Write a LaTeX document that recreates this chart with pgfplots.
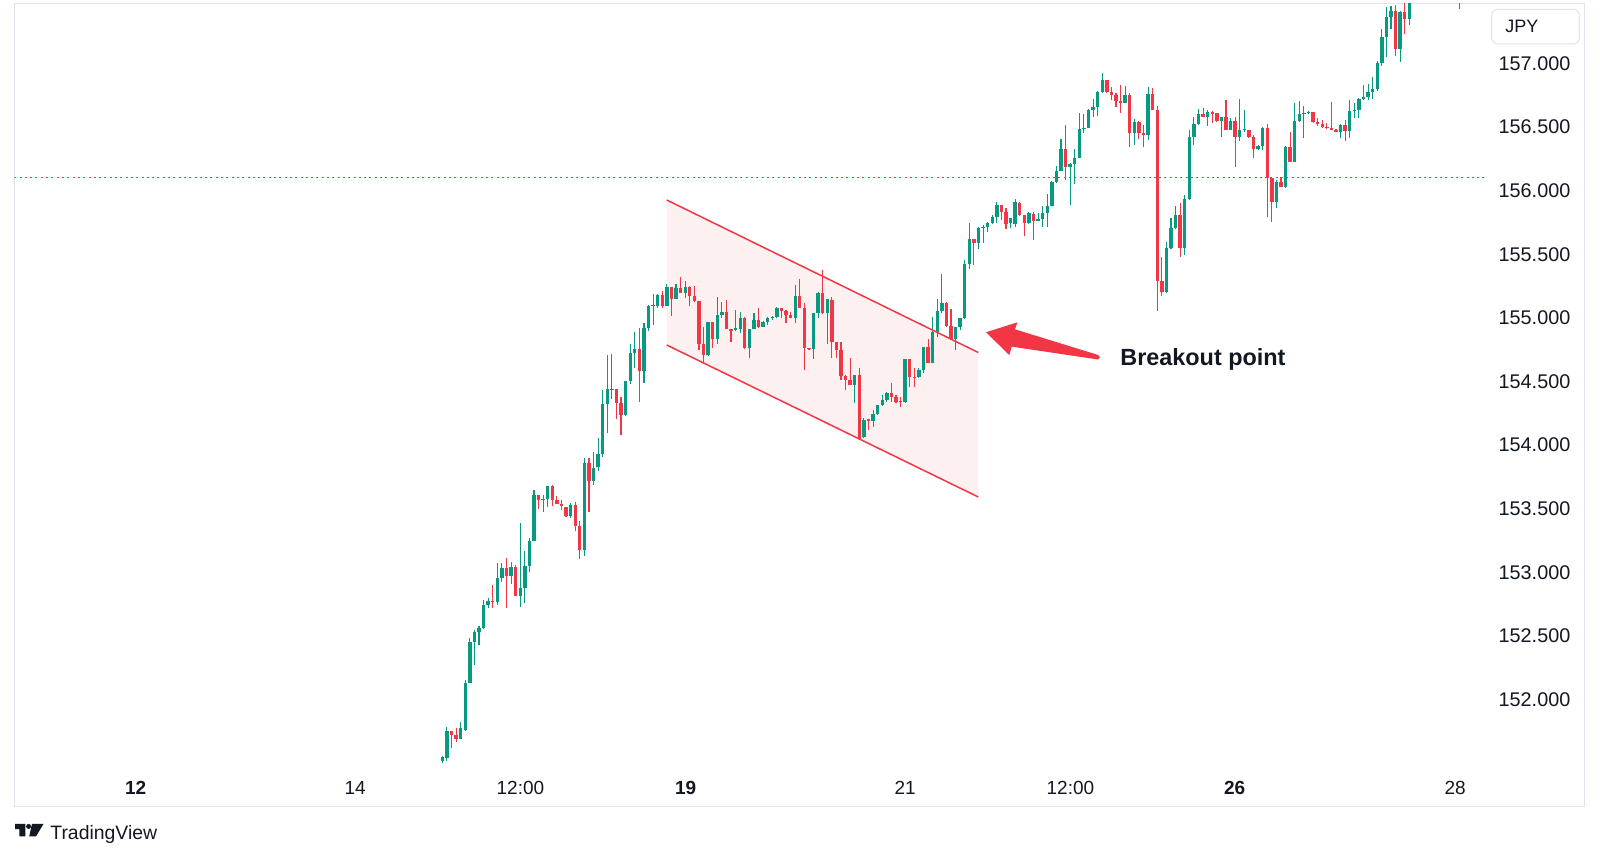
\documentclass[border=0pt]{standalone}
\usepackage{fontspec}
\setmainfont{Liberation Sans}
\usepackage{pgfplots}
\usepackage{pgfplotstable}
\pgfplotsset{compat=1.18}
\definecolor{tvgreen}{RGB}{8,153,129}
\definecolor{tvred}{RGB}{242,54,69}
\definecolor{tvtext}{RGB}{19,23,34}
\definecolor{tvborder}{RGB}{224,227,235}
\definecolor{chanbg}{RGB}{253,240,241}

\pgfplotstableread{
i o h l c
1 151.520 151.560 151.500 151.545
2 151.540 151.788 151.520 151.749
3 151.749 151.752 151.618 151.723
4 151.723 151.775 151.670 151.691
5 151.691 151.820 151.688 151.775
6 151.762 152.154 151.754 152.133
7 152.133 152.481 152.128 152.450
8 152.450 152.547 152.272 152.528
9 152.528 152.575 152.429 152.560
10 152.560 152.782 152.555 152.743
11 152.743 152.795 152.722 152.774
12 152.774 152.900 152.722 152.764
13 152.764 153.070 152.743 152.952
14 152.952 153.070 152.921 153.036
15 153.036 153.114 152.722 152.973
16 152.973 153.083 152.905 153.044
17 153.044 153.057 152.812 152.816
18 152.814 153.389 152.730 152.874
19 152.874 153.167 152.756 153.052
20 153.052 153.271 153.005 153.245
21 153.245 153.645 153.243 153.606
22 153.606 153.611 153.496 153.567
23 153.567 153.611 153.475 153.575
24 153.575 153.681 153.515 153.679
25 153.679 153.690 153.523 153.567
26 153.567 153.601 153.534 153.536
27 153.536 153.567 153.489 153.520
28 153.515 153.517 153.436 153.441
29 153.441 153.541 153.428 153.533
30 153.533 153.554 153.324 153.363
31 153.363 153.402 153.104 153.175
32 153.175 153.900 153.130 153.863
33 153.863 153.900 153.475 153.719
34 153.719 153.948 153.690 153.817
35 153.825 154.058 153.800 153.930
36 153.930 154.433 153.904 154.323
37 154.323 154.708 154.093 154.439
38 154.435 154.714 154.362 154.442
39 154.439 154.441 154.203 154.334
40 154.334 154.381 154.079 154.237
41 154.237 154.506 154.230 154.504
42 154.504 154.792 154.478 154.721
43 154.721 154.887 154.609 154.755
44 154.755 154.918 154.341 154.583
45 154.583 154.957 154.491 154.923
46 154.923 155.101 154.897 155.096
47 155.096 155.185 154.944 155.100
48 155.096 155.185 155.080 155.180
49 155.180 155.212 155.080 155.096
50 155.096 155.264 155.094 155.240
51 155.240 155.242 155.018 155.149
52 155.149 155.264 155.147 155.232
53 155.232 155.324 155.196 155.198
54 155.198 155.293 155.154 155.246
55 155.246 155.248 155.096 155.175
56 155.175 155.253 155.128 155.133
57 155.133 155.135 154.748 154.792
58 154.792 154.931 154.643 154.708
59 154.708 154.967 154.700 154.965
60 154.965 154.967 154.761 154.831
61 154.831 155.167 154.792 155.023
62 155.023 155.122 155.000 155.049
63 155.049 155.141 154.911 154.913
64 154.913 154.915 154.808 154.900
65 154.905 155.062 154.897 154.918
66 154.913 155.049 154.879 155.002
67 155.002 155.010 154.756 154.761
68 154.761 154.915 154.682 154.913
69 154.913 155.036 154.911 154.984
70 154.984 155.080 154.923 154.931
71 154.931 154.975 154.925 154.970
72 154.965 155.010 154.944 154.997
73 154.997 155.018 154.984 155.010
74 155.010 155.088 154.997 155.075
75 155.075 155.077 154.997 155.054
76 155.054 155.062 154.963 155.023
77 155.023 155.049 154.997 155.002
78 155.002 155.259 154.963 155.175
79 155.175 155.306 155.078 155.080
80 155.080 155.115 154.590 154.761
81 154.761 154.765 154.750 154.756
82 154.756 155.038 154.677 155.036
83 155.036 155.200 154.997 155.198
84 155.198 155.377 155.034 155.036
85 155.036 155.148 154.792 155.146
86 155.141 155.167 154.687 154.808
87 154.808 154.810 154.682 154.748
88 154.748 154.813 154.512 154.546
89 154.546 154.548 154.433 154.512
90 154.512 154.682 154.471 154.473
91 154.473 154.553 154.328 154.551
92 154.551 154.603 154.040 154.048
93 154.066 154.211 154.058 154.197
94 154.205 154.207 154.119 154.192
95 154.192 154.276 154.145 154.242
96 154.242 154.317 154.240 154.315
97 154.315 154.394 154.310 154.355
98 154.355 154.420 154.342 154.407
99 154.407 154.491 154.342 154.381
100 154.381 154.394 154.328 154.336
101 154.341 154.381 154.302 154.336
102 154.336 154.676 154.334 154.674
103 154.674 154.676 154.459 154.538
104 154.538 154.604 154.459 154.525
105 154.533 154.604 154.525 154.590
106 154.590 154.771 154.570 154.769
107 154.769 154.832 154.643 154.648
108 154.648 155.010 154.643 154.892
109 154.892 155.146 154.853 155.057
110 155.057 155.345 155.041 155.120
111 155.120 155.128 154.931 154.936
112 154.936 155.067 154.827 154.832
113 154.832 154.928 154.748 154.926
114 154.926 154.999 154.905 154.997
115 154.997 155.455 154.995 155.424
116 155.424 155.749 155.382 155.618
117 155.618 155.620 155.416 155.592
118 155.592 155.717 155.539 155.704
119 155.704 155.730 155.586 155.717
120 155.712 155.757 155.678 155.749
121 155.749 155.809 155.738 155.796
122 155.796 155.914 155.749 155.888
123 155.888 155.890 155.770 155.835
124 155.835 155.861 155.696 155.738
125 155.743 155.785 155.704 155.783
126 155.738 155.932 155.712 155.914
127 155.906 155.908 155.801 155.809
128 155.809 155.811 155.644 155.743
129 155.743 155.835 155.741 155.822
130 155.817 155.835 155.612 155.764
131 155.764 155.822 155.762 155.775
132 155.775 155.880 155.712 155.827
133 155.827 155.974 155.717 155.880
134 155.880 156.073 155.878 156.071
135 156.071 156.194 156.060 156.158
136 156.155 156.404 156.153 156.328
137 156.328 156.516 156.084 156.184
138 156.184 156.215 155.888 156.210
139 156.210 156.325 156.053 156.260
140 156.260 156.613 156.258 156.485
141 156.485 156.603 156.456 156.495
142 156.495 156.640 156.493 156.634
143 156.634 156.718 156.577 156.661
144 156.661 156.786 156.587 156.778
145 156.778 156.928 156.765 156.870
146 156.870 156.872 156.765 156.778
147 156.778 156.812 156.713 156.752
148 156.752 156.765 156.655 156.708
149 156.708 156.831 156.613 156.692
150 156.692 156.823 156.690 156.752
151 156.752 156.771 156.341 156.451
152 156.451 156.561 156.359 156.543
153 156.543 156.545 156.404 156.451
154 156.451 156.516 156.341 156.438
155 156.438 156.812 156.399 156.760
156 156.760 156.805 156.632 156.634
157 156.634 156.666 155.057 155.293
158 155.293 155.481 155.172 155.201
159 155.201 155.599 155.199 155.547
160 155.547 155.783 155.545 155.704
161 155.704 155.880 155.702 155.809
162 155.809 155.901 155.476 155.547
163 155.547 155.966 155.494 155.932
164 155.932 156.477 155.927 156.425
165 156.425 156.582 156.359 156.524
166 156.524 156.640 156.516 156.603
167 156.603 156.647 156.577 156.582
168 156.582 156.634 156.509 156.621
169 156.621 156.623 156.535 156.603
170 156.608 156.610 156.537 156.548
171 156.548 156.579 156.425 156.577
172 156.577 156.713 156.475 156.477
173 156.477 156.574 156.475 156.548
174 156.548 156.582 156.189 156.425
175 156.425 156.721 156.391 156.477
176 156.477 156.634 156.464 156.482
177 156.477 156.479 156.417 156.425
178 156.425 156.438 156.260 156.325
179 156.325 156.359 156.320 156.351
180 156.351 156.497 156.320 156.495
181 156.495 156.522 155.796 156.102
182 156.102 156.110 155.750 155.914
183 155.914 156.084 155.861 156.066
184 156.066 156.110 156.030 156.032
185 156.032 156.348 156.019 156.346
186 156.346 156.459 156.226 156.228
187 156.228 156.687 156.226 156.548
188 156.548 156.705 156.537 156.600
189 156.600 156.668 156.412 156.608
190 156.608 156.627 156.600 156.616
191 156.616 156.618 156.530 156.537
192 156.537 156.569 156.511 156.522
193 156.522 156.556 156.490 156.503
194 156.503 156.530 156.485 156.495
195 156.495 156.695 156.475 156.477
196 156.477 156.485 156.462 156.464
197 156.464 156.522 156.412 156.516
198 156.516 156.556 156.391 156.469
199 156.469 156.713 156.417 156.627
200 156.627 156.687 156.574 156.635
201 156.635 156.726 156.569 156.721
202 156.721 156.831 156.713 156.739
203 156.739 156.840 156.713 156.778
204 156.778 156.896 156.718 156.797
205 156.797 157.022 156.786 157.006
206 157.006 157.268 156.981 157.211
207 157.211 157.441 157.054 157.363
208 157.363 157.452 157.268 157.415
209 157.415 157.460 157.059 157.111
210 157.111 157.409 157.014 157.407
211 157.407 157.473 157.229 157.350
212 157.350 157.600 157.302 157.520
223 157.800 157.900 157.430 157.600
}\candles

\begin{document}
\begin{tikzpicture}
\useasboundingbox (0pt,0pt) rectangle (800pt,429pt);
\fill[white] (0pt,0pt) rectangle (800pt,429pt);
\draw[tvborder, line width=0.5pt] (7.15pt,26pt) rectangle (792pt,427.35pt);
% JPY box
\draw[tvborder, fill=white, line width=0.5pt, rounded corners=3pt] (745.85pt,407pt) rectangle (789.65pt,424.35pt);
\node[anchor=west, inner sep=0pt, text=tvtext, font=\fontsize{9pt}{11pt}\selectfont] at (752.5pt,415.7pt) {JPY};
% TradingView logo
\fill[tvtext] (7.5pt,17.1pt) -- (12.7pt,17.1pt) -- (12.7pt,10.8pt) -- (9.7pt,10.8pt) -- (9.7pt,14.4pt) -- (7.5pt,14.4pt) -- cycle;
\fill[tvtext] (14.3pt,15.8pt) circle (1.25pt);
\fill[tvtext] (16pt,17.1pt) -- (21.8pt,17.1pt) -- (18pt,10.8pt) -- (14.6pt,10.8pt) -- cycle;
\node[anchor=base west, inner sep=0pt, text=tvtext, font=\fontsize{9.7pt}{11pt}\selectfont] at (25pt,9.35pt) {TradingView};

\begin{axis}[
  at={(7.15pt,44pt)}, anchor=south west,
  width=735.35pt, height=383.35pt, scale only axis,
  xmin=14.3, xmax=1485, ymin=151.446, ymax=157.473,
  axis line style={draw=none}, major tick length=0pt,
  tick style={draw=none},
  scaled y ticks=false,
  yticklabel pos=right,
  ytick={152,152.5,...,157},
  yticklabel style={/pgf/number format/fixed, /pgf/number format/fixed zerofill,
     /pgf/number format/precision=3, /pgf/number format/assume math mode=true,
     anchor=west, inner sep=0pt, xshift=6.65pt,
     font=\fontsize{9.9pt}{11pt}\selectfont, text=tvtext},
  xtick={135.7,355.1,520.4,685.7,905.1,1070.4,1234.7,1455.1},
  xticklabels={\textbf{12},14,12:00,\textbf{19},21,12:00,\textbf{26},28},
  xticklabel style={anchor=center, inner sep=0pt, yshift=-8.9pt,
     font=\fontsize{9.5pt}{11pt}\selectfont, text=tvtext},
]
% channel fill
\addplot[fill=chanbg, draw=none, forget plot] coordinates {(666.7,155.927) (978.3,154.728) (978.3,153.592) (666.7,154.787)} -- cycle;
% price line
\addplot[tvred, line width=0.5pt, dash pattern=on 1pt off 1.65pt, forget plot] coordinates {(14.3,156.102) (1485,156.102)};
% wicks
\addplot[tvgreen, line width=0.55pt, forget plot, quiver={u=0, v={\thisrow{h}-\thisrow{l}}}, -,
  restrict expr to domain={\thisrow{c}-\thisrow{o}}{0:10}]
  table[x expr={442.3+(\thisrow{i}-1)*4.583}, y=l] {\candles};
\addplot[tvred, line width=0.55pt, forget plot, quiver={u=0, v={\thisrow{h}-\thisrow{l}}}, -,
  restrict expr to domain={\thisrow{c}-\thisrow{o}}{-10:-0.0000001}]
  table[x expr={442.3+(\thisrow{i}-1)*4.583}, y=l] {\candles};
% bodies
\addplot[tvgreen, line width=1.7pt, forget plot, quiver={u=0, v={max(abs(\thisrow{c}-\thisrow{o}),0.008)}}, -,
  restrict expr to domain={\thisrow{c}-\thisrow{o}}{0:10}]
  table[x expr={442.3+(\thisrow{i}-1)*4.583}, y expr={min(\thisrow{o},\thisrow{c})}] {\candles};
\addplot[tvred, line width=1.7pt, forget plot, quiver={u=0, v={max(abs(\thisrow{c}-\thisrow{o}),0.008)}}, -,
  restrict expr to domain={\thisrow{c}-\thisrow{o}}{-10:-0.0000001}]
  table[x expr={442.3+(\thisrow{i}-1)*4.583}, y expr={min(\thisrow{o},\thisrow{c})}] {\candles};
% channel lines
\addplot[tvred, line width=0.75pt, forget plot] coordinates {(666.7,155.927) (978.3,154.728)};
\addplot[tvred, line width=0.75pt, forget plot] coordinates {(666.7,154.787) (978.3,153.592)};
% arrow
\addplot[fill=tvred, draw=none, forget plot] coordinates {(986,154.887) (1017.3,154.965) (1015,154.910) (1098.3,154.708) (1100,154.689) (1098,154.673) (1011.7,154.774) (1009.3,154.708)} -- cycle;
\node[anchor=base west, inner sep=0pt, text=tvtext, font=\bfseries\fontsize{11.7pt}{13pt}\selectfont] at (axis cs:1120,154.622) {Breakout point};
\end{axis}
\end{tikzpicture}
\end{document}
